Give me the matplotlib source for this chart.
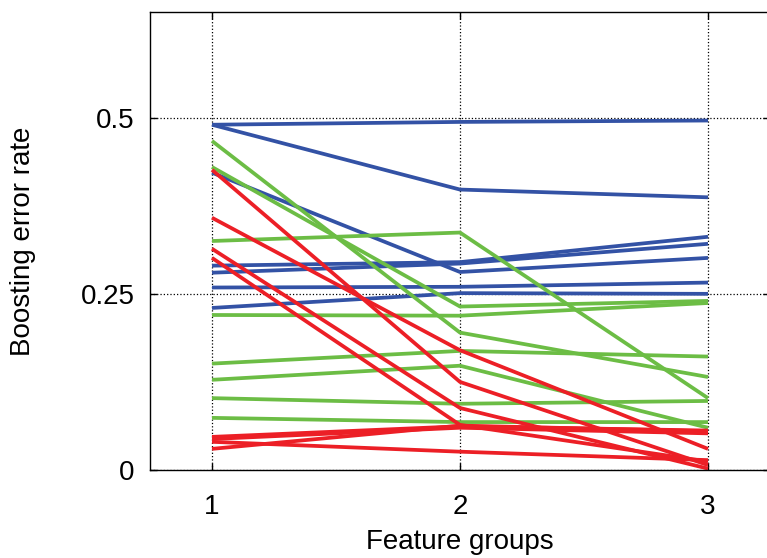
import numpy as np
import matplotlib
matplotlib.use('Agg')
import matplotlib.pyplot as plt

plt.rcParams['font.family'] = ['Liberation Sans', 'DejaVu Sans']

groups = [1, 2, 3]

# blue series
blue_lines = [
    [0.490, 0.494, 0.496],
    [0.490, 0.398, 0.387],
    [0.422, 0.281, 0.301],
    [0.290, 0.295, 0.331],
    [0.280, 0.293, 0.321],
    [0.259, 0.260, 0.266],
    [0.230, 0.251, 0.250],
]

# green series
green_lines = [
    [0.467, 0.195, 0.132],
    [0.430, 0.232, 0.240],
    [0.325, 0.337, 0.102],
    [0.220, 0.219, 0.237],
    [0.151, 0.169, 0.161],
    [0.128, 0.148, 0.060],
    [0.102, 0.094, 0.098],
    [0.074, 0.068, 0.068],
]

# red series
red_lines = [
    [0.426, 0.125, 0.007],
    [0.358, 0.170, 0.030],
    [0.314, 0.088, 0.002],
    [0.301, 0.064, 0.012],
    [0.047, 0.062, 0.056],
    [0.044, 0.060, 0.052],
    [0.030, 0.063, 0.055],
    [0.040, 0.026, 0.014],
]

y_ticks = [0, 0.25, 0.5]
y_tick_labels = ['0', '0.25', '0.5']

fig = plt.figure(figsize=(7.67, 5.58), dpi=100)
ax = fig.add_axes([150 / 767, 1 - 470 / 558, 620 / 767, 458 / 558])

for vals in blue_lines:
    ax.plot(groups, vals, color='#3352a5', lw=2.7, solid_capstyle='butt')
for vals in green_lines:
    ax.plot(groups, vals, color='#6cbd45', lw=2.7, solid_capstyle='butt')
for vals in red_lines:
    ax.plot(groups, vals, color='#ec1f26', lw=2.7, solid_capstyle='butt')

ax.set_xlim(0.75, 3.25)
ax.set_ylim(0, 0.65)
ax.set_xticks(groups)
ax.set_yticks(y_ticks)
ax.set_yticklabels(y_tick_labels)
ax.tick_params(direction='in', length=5, width=1, labelsize=20,
               top=True, right=True)
ax.tick_params(axis='y', pad=11)
ax.tick_params(axis='x', pad=17)
ax.grid(True, linestyle=':', color='black', linewidth=0.9)
ax.set_axisbelow(True)
for s in ax.spines.values():
    s.set_linewidth(1.0)

ax.set_xlabel('Feature groups', fontsize=20)
ax.set_ylabel('Boosting error rate', fontsize=20)
ax.xaxis.set_label_coords(0.5, -0.128)
ax.yaxis.set_label_coords(-0.184, 0.5)

fig.savefig('out.png', dpi=100)
